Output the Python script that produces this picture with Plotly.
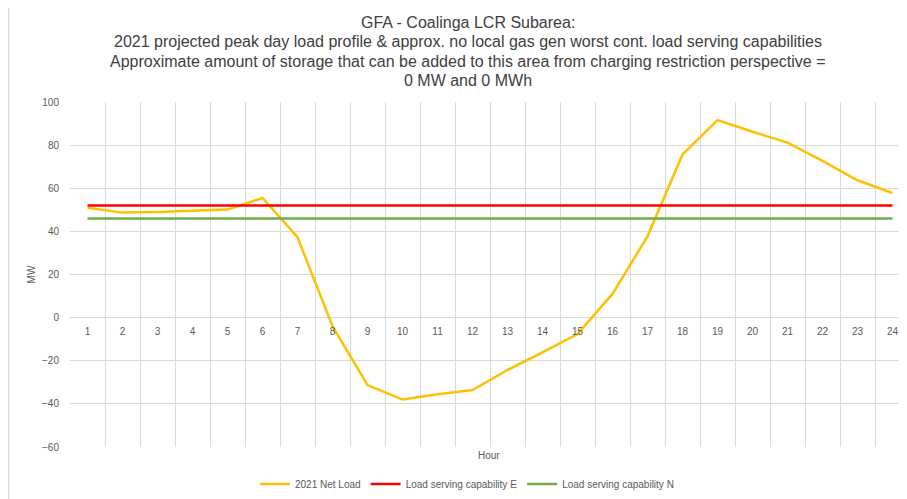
import plotly.graph_objects as go

hours = list(range(1, 25))
net_load = [51.0, 48.7, 49.0, 49.5, 50.1, 55.5, 37.3, -4.0, -31.3, -38.0, -35.5, -33.6,
            -24.3, -16.1, -7.6, 11.0, 37.7, 75.7, 91.6, 86.2, 81.2, 72.7, 63.7, 57.8]
cap_e = [52] * 24
cap_n = [46] * 24

title_lines = [
    "GFA - Coalinga LCR Subarea:",
    "2021 projected peak day load profile & approx. no local gas gen worst cont. load serving capabilities",
    "Approximate amount of storage that can be added to this area from charging restriction perspective =",
    "0 MW and 0 MWh",
]

font_family = "Liberation Sans, Arial, sans-serif"
grid = "#d9d9d9"
W, H = 907, 499
OFF = 8  # page body margin shifts the figure by 8px
# plot area in screen pixels of the reference
px_left, px_right, px_top, px_bottom = 70, 910, 102, 447
L, T = px_left - OFF, px_top - OFF
pw = px_right - px_left
ph = px_bottom - px_top
R, B = W - L - pw, H - T - ph


def sx(x):
    return (x - px_left) / pw


def sy(y):
    return (px_bottom - y) / ph


fig = go.Figure()
fig.add_trace(go.Scatter(x=hours, y=net_load, mode="lines", name="2021 Net Load",
                         line=dict(color="#ffc000", width=2.5)))
fig.add_trace(go.Scatter(x=hours, y=cap_e, mode="lines", name="Load serving capability E",
                         line=dict(color="#ff0000", width=2.5)))
fig.add_trace(go.Scatter(x=hours, y=cap_n, mode="lines", name="Load serving capability N",
                         line=dict(color="#70ad47", width=2.5)))

ymin, ymax = -60, 100

fig.update_layout(
    width=W, height=H,
    margin=dict(l=L, r=R, t=T, b=B, autoexpand=False),
    paper_bgcolor="white", plot_bgcolor="white",
    font=dict(family=font_family, color="#595959", size=10),
    showlegend=True,
    legend=dict(orientation="h", x=sx(467), xanchor="center", y=sy(484), yanchor="middle",
                font=dict(size=10, color="#595959"), tracegroupgap=0),
    xaxis=dict(
        range=[0.5, 24.5], tickmode="array", tickvals=hours, ticktext=[str(h) for h in hours],
        showgrid=False, zeroline=False, showline=False, ticks="", automargin=False,
        anchor="free", position=(0 - ymin) / (ymax - ymin), ticklabelstandoff=6,
        tickfont=dict(size=10, color="#595959"),
        minor=dict(tickmode="linear", tick0=0.5, dtick=1, showgrid=True, gridcolor=grid, gridwidth=1),
    ),
    yaxis=dict(
        range=[ymin, ymax], dtick=20, showgrid=True, gridcolor=grid, gridwidth=1,
        zeroline=False, showline=False, ticks="", automargin=False, ticklabelstandoff=10,
        title=dict(text="MW", font=dict(size=10, color="#595959"), standoff=4),
        tickfont=dict(size=10, color="#595959"),
    ),
)

# title lines placed individually to match the reference spacing
for line, ypx in zip(title_lines, [22, 42, 62, 81]):
    fig.add_annotation(text=line, xref="paper", yref="paper", x=sx(468), y=sy(ypx),
                       xanchor="center", yanchor="middle", showarrow=False,
                       font=dict(family=font_family, size=16, color="#404040"))

fig.add_annotation(text="Hour", xref="paper", yref="paper", x=sx(489), y=sy(455),
                   xanchor="center", yanchor="middle", showarrow=False, font=dict(size=10, color="#595959"))

# light frame line on the left of the chart
fig.add_shape(type="line", xref="paper", yref="paper", x0=sx(8.5), x1=sx(8.5), y0=sy(520), y1=sy(0),
              line=dict(color="#d9d9d9", width=1.5))

fig.write_html("out.html")
